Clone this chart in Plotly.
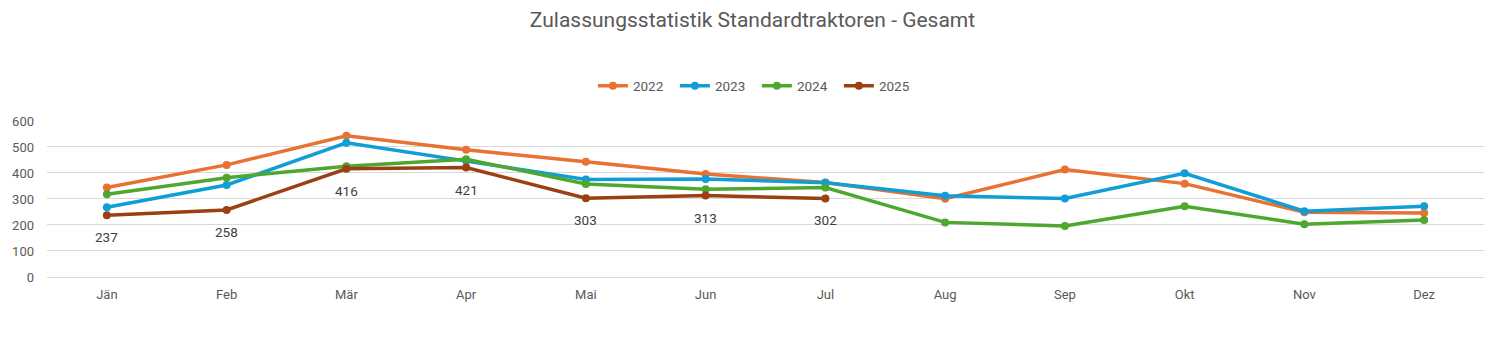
import plotly.graph_objects as go

months = ["Jän", "Feb", "Mär", "Apr", "Mai", "Jun", "Jul", "Aug", "Sep", "Okt", "Nov", "Dez"]
y2022 = [344, 431, 543, 489, 443, 396, 363, 301, 413, 359, 249, 246]
y2023 = [268, 354, 516, 447, 375, 377, 362, 312, 302, 399, 253, 272]
y2024 = [318, 382, 426, 453, 358, 337, 344, 210, 196, 272, 203, 219]
y2025 = [237, 258, 416, 421, 303, 313, 302]

series = [
    ("2022", y2022, "#E97132"),
    ("2023", y2023, "#0F9ED5"),
    ("2024", y2024, "#4EA72E"),
    ("2025", y2025, "#9A4012"),
]

fig = go.Figure()
for name, vals, col in series:
    fig.add_trace(go.Scatter(
        x=months[:len(vals)], y=vals, name=name, mode="lines+markers",
        line=dict(color=col, width=3.5),
        marker=dict(color=col, size=8),
    ))

for m, v in zip(months, y2025):
    fig.add_annotation(x=m, y=v, text=str(v), showarrow=False, yshift=-22,
                       font=dict(size=13.5, color="#404040", family="Roboto"))

fig.update_layout(
    width=1505, height=345,
    margin=dict(l=47, r=21, t=118, b=68),
    paper_bgcolor="white", plot_bgcolor="white",
    font=dict(family="Roboto", color="#595959", size=13),
    title=dict(text="Zulassungsstatistik Standardtraktoren - Gesamt",
               x=0.5, xanchor="center", y=1 - 20 / 345, yanchor="middle",
               yref="container", font=dict(size=21, color="#595959", family="Roboto")),
    legend=dict(orientation="h", x=0.494, xanchor="center", y=1 - 86 / 345,
                yanchor="middle", yref="container", font=dict(size=13.5, color="#595959"),
                itemwidth=30, tracegroupgap=0, entrywidth=37, entrywidthmode="pixels"),
    showlegend=True,
)
fig.update_xaxes(type="category", categoryorder="array", categoryarray=months,
                 range=[-0.5, 11.5], showgrid=False, showline=False, zeroline=False,
                 ticks="", ticklabelstandoff=8, tickfont=dict(size=13, color="#595959"))
fig.update_yaxes(range=[0, 600], dtick=100, showgrid=True, gridcolor="#D9D9D9",
                 gridwidth=1, zeroline=True, zerolinecolor="#D9D9D9", zerolinewidth=1,
                 showline=False, ticks="", ticklabelstandoff=12,
                 tickfont=dict(size=13, color="#595959"))

fig.write_html("out.html")
